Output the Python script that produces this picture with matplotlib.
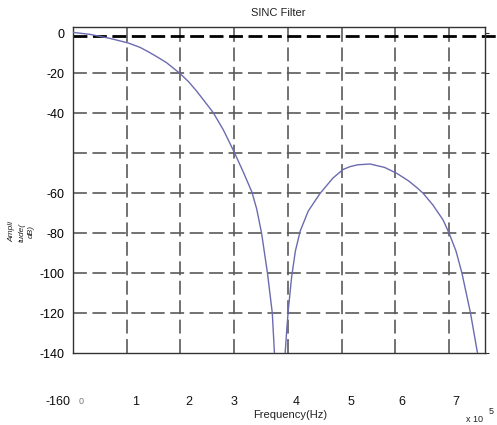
import matplotlib
matplotlib.use("Agg")
import matplotlib.pyplot as plt
import matplotlib.transforms as mtransforms

plt.rcParams['font.family'] = ['Liberation Sans', 'DejaVu Sans']
plt.rcParams['lines.scale_dashes'] = False

# ---- data (frequency in units of 1e5 Hz, amplitude in dB) ----
main_freq = [0.0, 0.32, 0.69, 1.03, 1.25, 1.43, 1.6, 1.74, 1.99, 2.15, 2.30, 2.45, 2.61,
             2.80, 3.00, 3.17, 3.33, 3.42, 3.51, 3.62, 3.71, 3.75, 3.79]
main_db = [0.3, -0.7, -2.7, -5.0, -7.2, -9.8, -12.5, -14.8, -20.2, -24.3, -29.0, -34.2,
           -39.8, -48.5, -59.5, -69.5, -79.5, -88.0, -100.0, -120.0, -140.0, -160.0, -200.0]
side_freq = [3.93, 3.95, 3.98, 4.01, 4.07, 4.14, 4.23, 4.38, 4.6, 4.84, 5.03, 5.16, 5.3,
             5.53, 5.8, 6.03, 6.25, 6.41, 6.52, 6.7, 6.89, 7.0, 7.13, 7.24, 7.40, 7.53, 7.57]
side_db = [-200.0, -160.0, -148.0, -138.0, -122.0, -109.0, -99.0, -89.0, -80.2, -72.5,
           -68.2, -66.8, -65.9, -65.5, -67.2, -70.2, -74.0, -77.5, -80.2, -86.0, -93.5,
           -100.0, -109.0, -120.0, -140.0, -160.0, -200.0]
ref_db = -1.4

y_grid = [0, -20, -40, -60, -80, -100, -120, -140, -160]
y_tick_labels = ["0", "-20", "-40", "", "-60", "-80", "-100", "-120", "-140"]
y_extra_label = "-160"
x_grid = [0, 1, 2, 3, 4, 5, 6, 7]
x_tick_labels = ["0", "1", "2", "3", "4", "5", "6", "7"]

title = "SINC Filter"
xlabel = "Frequency(Hz)"
ylabel_parts = ["Ampli", "tude(", "dB)"]

# ---- style ----
W, H = 497, 425
fig = plt.figure(figsize=(W / 100, H / 100), dpi=100)
ax = fig.add_axes([73 / W, 1 - 353 / H, (485 - 73) / W, (353 - 27) / H])
ax.set_xlim(0, 7.67)
ax.set_ylim(-160, 3)

grid_kw = dict(color='#5a5a5a', lw=1.2, dashes=(10, 4), zorder=1)
for xv in x_grid[1:]:
    ax.axvline(xv, **grid_kw)
for yv in y_grid[1:-1]:
    ax.axhline(yv, **grid_kw)

ax.plot([0, 7.9], [ref_db, ref_db], color='black', lw=2.0, dashes=(10, 4),
        clip_on=False, zorder=2)

curve_color = '#6b6bb0'
ax.plot(main_freq, main_db, color=curve_color, lw=1.0, zorder=3)
ax.plot(side_freq, side_db, color=curve_color, lw=1.0, zorder=3)

for sp in ax.spines.values():
    sp.set_color('#333333')
    sp.set_linewidth(1.0)

ax.set_yticks(y_grid)
ax.set_yticklabels(y_tick_labels, fontsize=9)
ax.tick_params(axis='y', left=False, right=True, direction='out', length=3,
               pad=3, color='#333333')
ax.set_xticks(x_grid)
ax.set_xticklabels([])
ax.tick_params(axis='x', bottom=False, length=0)

# x tick labels drawn lower and slightly shifted as in the reference
x_label_pos = [0.15, 1.17, 2.16, 3.0, 4.15, 5.18, 6.13, 7.13]
trans = mtransforms.blended_transform_factory(ax.transData, fig.transFigure)
for i, (xp, lab) in enumerate(zip(x_label_pos, x_tick_labels)):
    if i == 0:
        ax.text(xp, 1 - 402 / H, lab, transform=trans, ha='center', va='center',
                fontsize=6.5, color='#777777')
    else:
        ax.text(xp, 1 - 402 / H, lab, transform=trans, ha='center', va='center',
                fontsize=9, color='#111111')

fig.text(70 / W, 1 - 402 / H, y_extra_label, ha='right', va='center', fontsize=9,
         color='#111111')

fig.text(278 / W, 1 - 13 / H, title, ha='center', va='center', fontsize=8,
         color='#222222')
fig.text(290 / W, 1 - 415 / H, xlabel, ha='center', va='center', fontsize=8,
         color='#222222')
fig.text(491 / W, 1 - 412 / H, "5", ha='center', va='center', fontsize=6.5,
         color='#222222')
fig.text(474 / W, 1 - 420 / H, "x 10", ha='center', va='center', fontsize=6.5,
         color='#222222')

for xp, part in zip([12, 22, 31], ylabel_parts):
    fig.text(xp / W, 1 - 232 / H, part, rotation=90, ha='center', va='center',
             fontsize=6, style='italic', color='#222222')

fig.savefig("out.png", dpi=100)
